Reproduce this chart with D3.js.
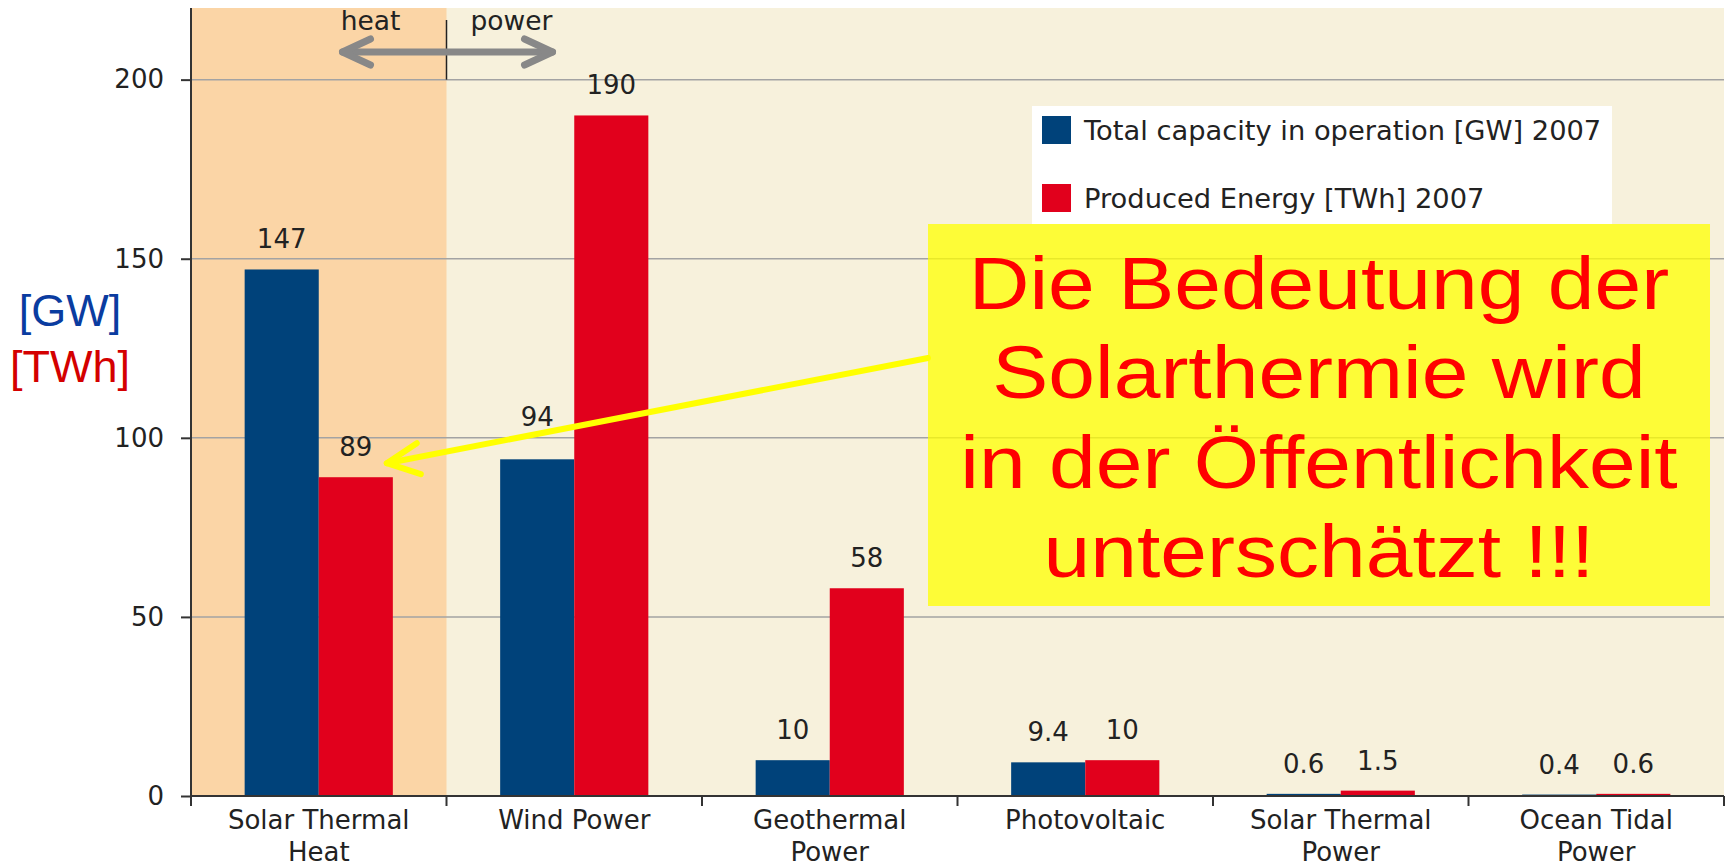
<!DOCTYPE html>
<html>
<head>
<meta charset="utf-8">
<title>Solar thermal vs. other renewables 2007</title>
<script src="https://d3js.org/d3.v7.min.js"></script>
<style>
  body { margin: 0; background: #fff; }
  svg { display: block; }
  .tick text { font-family: "DejaVu Sans", Verdana, sans-serif; }
</style>
</head>
<body>
<div id="chart"></div>
<script>
// data
const categories = ["Solar Thermal Heat", "Wind Power", "Geothermal Power", "Photovoltaic", "Solar Thermal Power", "Ocean Tidal Power"];
const categoryLines = [["Solar Thermal", "Heat"], ["Wind Power"], ["Geothermal", "Power"], ["Photovoltaic"], ["Solar Thermal", "Power"], ["Ocean Tidal", "Power"]];
const capacityGW = [147, 94, 10, 9.4, 0.6, 0.4];
const energyTWh = [89, 190, 58, 10, 1.5, 0.6];
const seriesKeys = ["capacity", "energy"];
const seriesNames = ["Total capacity in operation [GW] 2007", "Produced Energy [TWh] 2007"];
const yTicks = [0, 50, 100, 150, 200];
const calloutLines = ["Die Bedeutung der", "Solarthermie wird", "in der Öffentlichkeit", "unterschätzt !!!"];

const W = 1729, H = 868;
const colors = { capacity: "#00427a", energy: "#e1001c" };
const font = '"DejaVu Sans", Verdana, sans-serif';
const textCol = "#222";

const rows = categories.map((c, i) => ({ cat: c, capacity: capacityGW[i], energy: energyTWh[i] }));

const svg = d3.select("#chart").append("svg")
    .attr("width", W).attr("height", H);

const x = d3.scaleBand()
    .domain(categories)
    .range([191, 1724])
    .paddingInner(0.42)
    .paddingOuter(0.21);

const xs = d3.scaleBand()
    .domain(seriesKeys)
    .range([0, x.bandwidth()]);

const y = d3.scaleLinear()
    .domain([0, 220])
    .range([796, 8]);

const [x0, x1] = x.range();
const split = x0 + x.step(); // heat | power boundary

// callout box + pointer geometry (needed early for label placement)
const box = { x: 928, y: 224, w: 782, h: 382 };
const tipX = x(categories[0]) + xs("energy") + xs.bandwidth() / 2 + 31;
const tipY = y(energyTWh[0]) - 14;
const startY = 358;
const pointerY = px => tipY + (px - tipX) * (startY - tipY) / (box.x - tipX);

// plot backgrounds
svg.append("rect")
    .attr("x", x0).attr("y", y(220))
    .attr("width", x1 - x0).attr("height", y(0) - y(220))
    .attr("fill", "#f7f1dc");
svg.append("rect")
    .attr("x", x0).attr("y", y(220))
    .attr("width", split - x0).attr("height", y(0) - y(220))
    .attr("fill", "#fbd5a6");

// gridlines
svg.append("g")
    .selectAll("line")
    .data(yTicks.filter(d => d > 0))
    .join("line")
    .attr("x1", x0).attr("x2", x1)
    .attr("y1", d => y(d)).attr("y2", d => y(d))
    .attr("stroke", "#a3a3a3")
    .attr("stroke-width", 1.5);

// bars
const groups = svg.append("g")
    .selectAll("g")
    .data(rows)
    .join("g")
    .attr("transform", d => `translate(${x(d.cat)},0)`);

groups.selectAll("rect")
    .data(d => seriesKeys.map(k => ({ key: k, value: d[k] })))
    .join("rect")
    .attr("x", d => xs(d.key))
    .attr("y", d => y(d.value))
    .attr("width", xs.bandwidth())
    .attr("height", d => y(0) - y(d.value))
    .attr("fill", d => colors[d.key]);

// value labels; a label that would sit on the pointer is lifted above it
groups.selectAll("text")
    .data(d => seriesKeys.map(k => ({ key: k, value: d[k], gx: x(d.cat) })))
    .join("text")
    .attr("x", d => xs(d.key) + xs.bandwidth() / 2)
    .attr("y", d => {
        let base = y(d.value) - 21;
        const cxAbs = d.gx + xs(d.key) + xs.bandwidth() / 2;
        if (cxAbs > tipX + 20 && cxAbs < box.x) {
            const ly = pointerY(cxAbs);
            if (base > ly - 26 && base - 20 < ly + 6) base = ly - 8;
        }
        return base;
    })
    .attr("text-anchor", "middle")
    .attr("font-family", font)
    .attr("font-size", 26)
    .attr("fill", textCol)
    .text(d => String(d.value));

// y axis
const yAxis = svg.append("g")
    .attr("transform", `translate(${x0},0)`)
    .call(d3.axisLeft(y).tickValues(yTicks).tickSize(10).tickPadding(17));
yAxis.select(".domain").attr("stroke", "#333").attr("stroke-width", 2)
    .attr("d", `M0,${y(220)}V${y(0)}`);
yAxis.selectAll(".tick line").attr("stroke", "#333").attr("stroke-width", 2);
yAxis.selectAll(".tick text").attr("font-size", 26).attr("fill", textCol);

// x axis: line, ticks on band boundaries, labels centred
const xAxis = svg.append("g");
xAxis.append("line")
    .attr("x1", x0).attr("x2", x1)
    .attr("y1", y(0)).attr("y2", y(0))
    .attr("stroke", "#333").attr("stroke-width", 2);
xAxis.selectAll(".bt")
    .data(d3.range(categories.length + 1))
    .join("line")
    .attr("class", "bt")
    .attr("x1", i => x0 + i * x.step()).attr("x2", i => x0 + i * x.step())
    .attr("y1", y(0)).attr("y2", y(0) + 10)
    .attr("stroke", "#333").attr("stroke-width", 2);
xAxis.selectAll(".cl")
    .data(categories)
    .join("text")
    .attr("class", "cl")
    .attr("text-anchor", "middle")
    .attr("font-family", font)
    .attr("font-size", 26)
    .attr("fill", textCol)
    .selectAll("tspan")
    .data((d, i) => categoryLines[i].map(l => ({ l, cx: x(d) + x.bandwidth() / 2 })))
    .join("tspan")
    .attr("x", d => d.cx)
    .attr("y", (d, j) => 829 + j * 32)
    .text(d => d.l);

// heat | power marker
svg.append("line")
    .attr("x1", split).attr("x2", split)
    .attr("y1", 20).attr("y2", y(200))
    .attr("stroke", "#222").attr("stroke-width", 1.5);
const arrowG = svg.append("g")
    .attr("stroke", "#888").attr("stroke-width", 7)
    .attr("stroke-linecap", "round").attr("stroke-linejoin", "round")
    .attr("fill", "none");
arrowG.append("path").attr("d", `M${split - 104},52H${split + 106}`);
arrowG.append("path").attr("d", `M${split - 76},39L${split - 104},52L${split - 76},65`);
arrowG.append("path").attr("d", `M${split + 78},39L${split + 106},52L${split + 78},65`);
svg.append("text")
    .attr("x", split - 76).attr("y", 30)
    .attr("text-anchor", "middle")
    .attr("font-family", font).attr("font-size", 26.5).attr("fill", textCol)
    .text("heat");
svg.append("text")
    .attr("x", split + 65).attr("y", 30)
    .attr("text-anchor", "middle")
    .attr("font-family", font).attr("font-size", 26.5).attr("fill", textCol)
    .text("power");

// legend
const legend = svg.append("g").attr("transform", "translate(1032,106)");
legend.append("rect")
    .attr("width", 580).attr("height", 118)
    .attr("fill", "#fff");
const li = legend.selectAll(".li")
    .data(seriesKeys)
    .join("g")
    .attr("class", "li")
    .attr("transform", (d, i) => `translate(10,${10 + i * 68})`);
li.append("rect")
    .attr("width", 29).attr("height", 28)
    .attr("fill", d => colors[d]);
li.append("text")
    .attr("x", 42).attr("y", 24)
    .attr("font-family", font).attr("font-size", 27.3).attr("fill", textCol)
    .text((d, i) => seriesNames[i]);

// unit labels
svg.append("text")
    .attr("x", 70).attr("y", 326)
    .attr("text-anchor", "middle")
    .attr("font-family", '"Liberation Sans", Arial, sans-serif')
    .attr("font-size", 45).attr("fill", "#0a3ca0")
    .text("[GW]");
svg.append("text")
    .attr("x", 70).attr("y", 382)
    .attr("text-anchor", "middle")
    .attr("font-family", '"Liberation Sans", Arial, sans-serif')
    .attr("font-size", 45).attr("fill", "#d40000")
    .text("[TWh]");

// callout box
svg.append("rect")
    .attr("x", box.x).attr("y", box.y)
    .attr("width", box.w).attr("height", box.h)
    .attr("fill", "#ffff00").attr("fill-opacity", 0.75);
const cx = box.x + box.w / 2;
svg.append("g")
    .attr("transform", `translate(${cx},0) scale(1.12,1)`)
    .selectAll("text")
    .data(calloutLines)
    .join("text")
    .attr("x", 0)
    .attr("y", (d, i) => 309 + i * 89.5)
    .attr("text-anchor", "middle")
    .attr("font-family", '"Liberation Sans", Arial, sans-serif')
    .attr("font-size", 75)
    .attr("fill", "#ff0000")
    .text(d => d);

// yellow pointer to the 89 TWh label
const pointer = svg.append("g")
    .attr("stroke", "#ffff00").attr("stroke-width", 6)
    .attr("stroke-linecap", "round").attr("stroke-linejoin", "round")
    .attr("fill", "none");
pointer.append("path").attr("d", `M${box.x},${startY}L${tipX},${tipY}`);
pointer.append("path").attr("d", `M${tipX + 30},${tipY - 20}L${tipX},${tipY}L${tipX + 34},${tipY + 11}`);
</script>
</body>
</html>
